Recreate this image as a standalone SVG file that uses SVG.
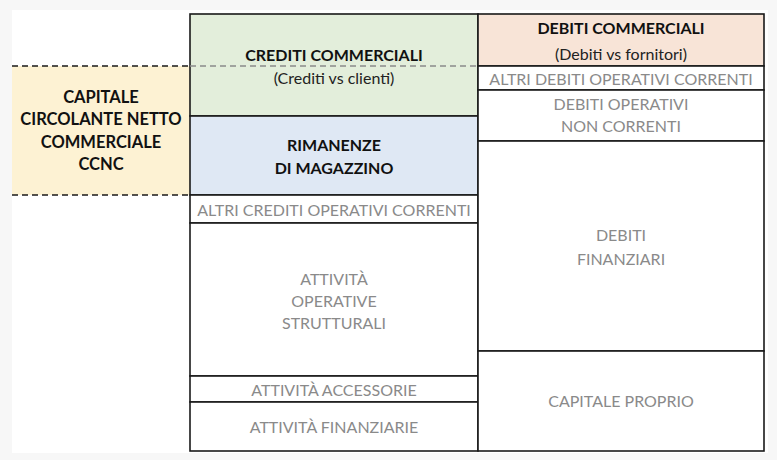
<svg xmlns="http://www.w3.org/2000/svg" width="777" height="460" viewBox="0 0 777 460">
<style>
.box{stroke:#1a1a1a;stroke-width:1.6}
.t{font-family:Lato,"Liberation Sans",sans-serif;font-size:16px;text-anchor:middle}
.g{fill:#8a8a8a}
.b{fill:#111;font-weight:bold}
.y{font-size:16.5px}
.n{fill:#222}
.dash{stroke:#1a1a1a;stroke-width:1.5;stroke-dasharray:6 4;fill:none}
.dashg{stroke:#8a8a8a;stroke-width:1.5;stroke-dasharray:6 4;fill:none}
</style>
<rect x="0" y="0" width="777" height="460" fill="#f7f7f7"/>
<rect x="12" y="10" width="756" height="443" fill="#ffffff"/>

<g id="ccnc">
<rect x="12" y="66" width="178" height="129" fill="#fdf2d3"/>
<text class="t b y" x="101" y="103">CAPITALE</text>
<text class="t b y" x="101" y="125">CIRCOLANTE NETTO</text>
<text class="t b y" x="101" y="148">COMMERCIALE</text>
<text class="t b y" x="101" y="170">CCNC</text>
</g>

<g id="crediti-commerciali">
<rect class="box" x="190" y="14" width="288" height="102" fill="#e3eedb"/>
<text class="t b" x="334" y="61">CREDITI COMMERCIALI</text>
<text class="t n" x="334" y="84">(Crediti vs clienti)</text>
</g>
<g id="rimanenze">
<rect class="box" x="190" y="116" width="288" height="79" fill="#dfe8f4"/>
<text class="t b" x="334" y="151">RIMANENZE</text>
<text class="t b" x="334" y="174">DI MAGAZZINO</text>
</g>
<g id="altri-crediti">
<rect class="box" x="190" y="195" width="288" height="28" fill="#fff"/>
<text class="t g" x="334" y="216">ALTRI CREDITI OPERATIVI CORRENTI</text>
</g>
<g id="attivita-operative">
<rect class="box" x="190" y="223" width="288" height="153" fill="#fff"/>
<text class="t g" x="334" y="285">ATTIVITÀ</text>
<text class="t g" x="334" y="307">OPERATIVE</text>
<text class="t g" x="334" y="329">STRUTTURALI</text>
</g>
<g id="attivita-accessorie">
<rect class="box" x="190" y="376" width="288" height="26" fill="#fff"/>
<text class="t g" x="334" y="395.5">ATTIVITÀ ACCESSORIE</text>
</g>
<g id="attivita-finanziarie">
<rect class="box" x="190" y="402" width="288" height="49" fill="#fff"/>
<text class="t g" x="334" y="432.5">ATTIVITÀ FINANZIARIE</text>
</g>

<g id="debiti-commerciali">
<rect class="box" x="478" y="14" width="286" height="52" fill="#f8e4d7"/>
<text class="t b" x="621" y="34">DEBITI COMMERCIALI</text>
<text class="t n" x="621" y="60">(Debiti vs fornitori)</text>
</g>
<g id="altri-debiti">
<rect class="box" x="478" y="66" width="286" height="24" fill="#fff"/>
<text class="t g" x="621" y="84.5">ALTRI DEBITI OPERATIVI CORRENTI</text>
</g>
<g id="debiti-operativi">
<rect class="box" x="478" y="90" width="286" height="51" fill="#fff"/>
<text class="t g" x="621" y="110">DEBITI OPERATIVI</text>
<text class="t g" x="621" y="131.5">NON CORRENTI</text>
</g>
<g id="debiti-finanziari">
<rect class="box" x="478" y="141" width="286" height="210" fill="#fff"/>
<text class="t g" x="621" y="240.5">DEBITI</text>
<text class="t g" x="621" y="264.5">FINANZIARI</text>
</g>
<g id="capitale-proprio">
<rect class="box" x="478" y="351" width="286" height="100" fill="#fff"/>
<text class="t g" x="621" y="406.5">CAPITALE PROPRIO</text>
</g>

<g id="connectors">
<line class="dash" x1="12" y1="66" x2="190" y2="66"/>
<line class="dashg" x1="190" y1="66" x2="478" y2="66"/>
<line class="dash" x1="12" y1="195" x2="190" y2="195"/>
</g>
</svg>
